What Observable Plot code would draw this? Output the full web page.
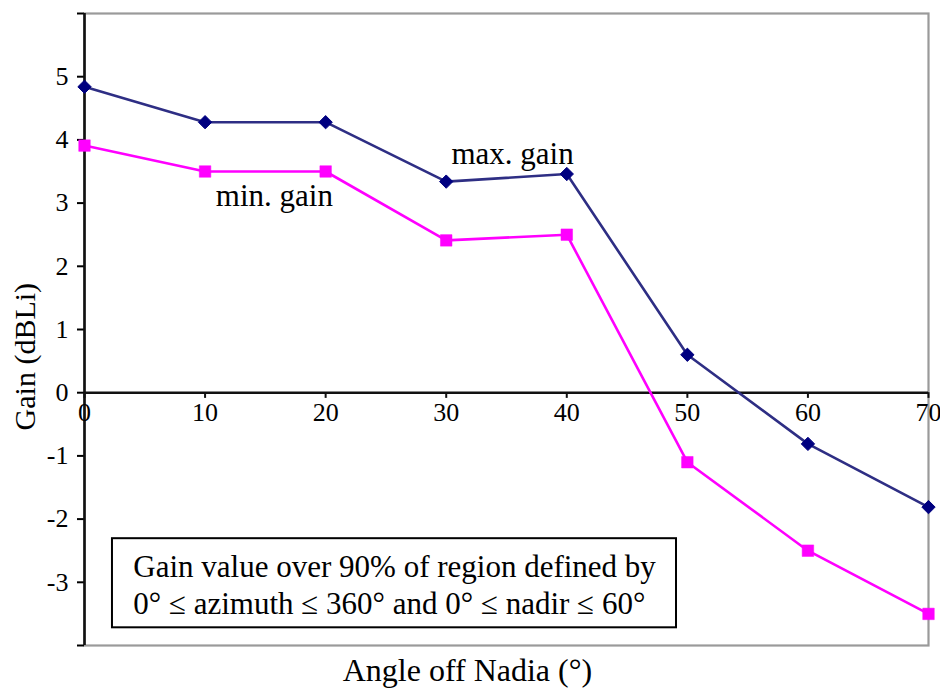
<!DOCTYPE html>
<html>
<head>
<meta charset="utf-8">
<script src="https://cdn.jsdelivr.net/npm/d3@7"></script>
<script src="https://cdn.jsdelivr.net/npm/@observablehq/plot@0.6"></script>
<style>
  html, body { margin: 0; padding: 0; background: #fff; }
  #chart svg { display: block; }
  #chart svg, #chart svg text, #chart svg tspan { font-family: "Liberation Serif", "Times New Roman", "DejaVu Serif", serif !important; }
</style>
</head>
<body>
<div id="chart"></div>
<script>
// ---- data ----
const angles = [0, 10, 20, 30, 40, 50, 60, 70];
const maxGain = [4.84, 4.28, 4.28, 3.34, 3.46, 0.60, -0.81, -1.81];
const minGain = [3.91, 3.50, 3.50, 2.41, 2.50, -1.10, -2.50, -3.50];
const xTicks = [0, 10, 20, 30, 40, 50, 60, 70];
const yTicks = [-4, -3, -2, -1, 0, 1, 2, 3, 4, 5, 6];
const yTickLabels = ["", "-3", "-2", "-1", "0", "1", "2", "3", "4", "5", ""];
const xLabel = "Angle off Nadia (°)";
const yLabel = "Gain (dBLi)";
const seriesLabels = [
  {text: "max. gain", x: 35.5, y: 3.78},
  {text: "min. gain", x: 15.75, y: 3.11}
];
const noteText = "Gain value over 90% of region defined by\n0° ≤ azimuth ≤ 360° and 0° ≤ nadir ≤ 60°";
const noteBox = [{x1: 2.32, x2: 49.1, y1: -2.31, y2: -3.72}];
const notePos = [{x: 4.05, y: -3.02}];

const maxData = angles.map((a, i) => ({angle: a, gain: maxGain[i]}));
const minData = angles.map((a, i) => ({angle: a, gain: minGain[i]}));

const navyLine = "#2e2e84";
const navy = "#000080";
const pink = "#ff00ff";

const chart = Plot.plot({
  width: 940,
  height: 698,
  marginLeft: 84,
  marginRight: 12,
  marginTop: 13,
  marginBottom: 53,
  style: {fontSize: "25px", color: "#000", background: "#fff"},
  x: {domain: [0, 70], label: null},
  y: {domain: [-4, 6], label: null},
  marks: [
    Plot.frame({stroke: "#9a9a9a", strokeWidth: 2.2}),
    Plot.axisY({
      ticks: yTicks,
      tickFormat: (d) => yTickLabels[yTicks.indexOf(d)],
      tickSize: 7,
      tickPadding: 9,
      strokeWidth: 2,
      fontSize: 26,
      label: null
    }),
    Plot.axisX({ticks: [], label: null}),
    Plot.ruleX([0], {stroke: "#111", strokeWidth: 2.6}),
    Plot.ruleY([0], {stroke: "#111", strokeWidth: 2.6}),
    Plot.ruleX(xTicks, {x: d => d, y1: 0, y2: -0.09, stroke: "#111", strokeWidth: 2}),
    Plot.text(xTicks, {x: d => d, y: 0, dy: 20, text: d => String(d), fontSize: 26, fill: "#000"}),
    Plot.rect(noteBox, {x1: "x1", x2: "x2", y1: "y1", y2: "y2", fill: "#fff", stroke: "#000", strokeWidth: 2}),
    Plot.text(notePos, {x: "x", y: "y", text: () => noteText, textAnchor: "start", lineHeight: 1.2, fontSize: 31, fill: "#000"}),
    Plot.line(maxData, {x: "angle", y: "gain", stroke: navyLine, strokeWidth: 2.6}),
    Plot.line(minData, {x: "angle", y: "gain", stroke: pink, strokeWidth: 2.6}),
    Plot.dot(maxData, {x: "angle", y: "gain", symbol: "diamond2", r: 6, fill: navy, stroke: navy, strokeWidth: 1}),
    Plot.dot(minData, {x: "angle", y: "gain", symbol: "square", r: 6.5, fill: pink, stroke: pink, strokeWidth: 0.5}),
    Plot.text(seriesLabels, {x: "x", y: "y", text: "text", fontSize: 31, fill: "#000"}),
    Plot.text([xLabel], {x: () => 31.76, frameAnchor: "bottom", dy: 35, text: d => d, fontSize: 32, fill: "#000"}),
    Plot.text([yLabel], {y: () => 0.57, frameAnchor: "left", textAnchor: "middle", dx: -59, rotate: -90, text: d => d, fontSize: 30, fill: "#000"})
  ]
});
document.getElementById("chart").appendChild(chart);
</script>
</body>
</html>
